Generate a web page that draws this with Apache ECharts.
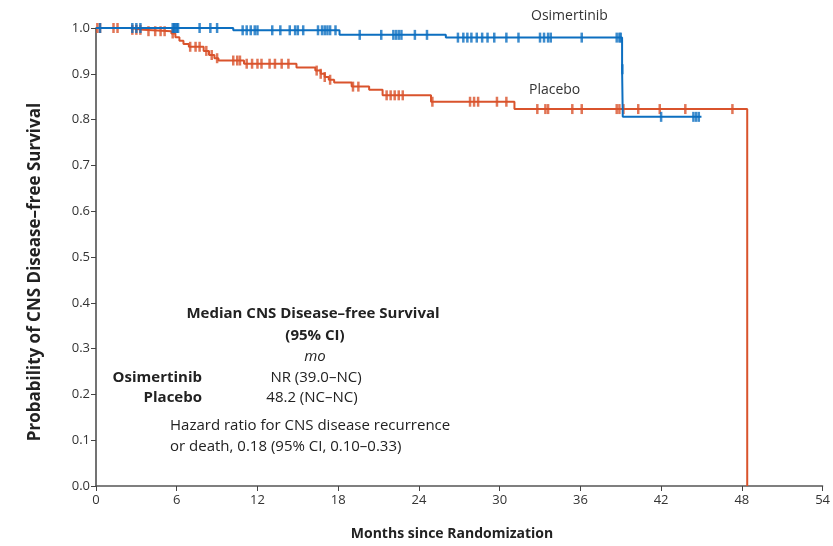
<!DOCTYPE html>
<html>
<head>
<meta charset="utf-8">
<script src="https://cdn.jsdelivr.net/npm/echarts@6/dist/echarts.min.js"></script>
<style>
  html, body { margin: 0; padding: 0; background: #fff; }
  #chart { width: 833px; height: 546px; }
</style>
</head>
<body>
<div id="chart"></div>
<script>
// Kaplan-Meier steps: time (months) and survival after the event
const osiTimes = [0, 10.2, 18.1, 26.0, 39.1, 39.15, 45.0]
const osiSurv = [1, 0.995, 0.985, 0.979, 0.91, 0.806, 0.806]
const plaTimes = [0, 2.5, 3.5, 5.6, 5.9, 6.2, 6.5, 6.9, 8.0, 8.4, 8.8, 9.1, 11.0, 14.9, 16.3, 16.7, 17.0, 17.3, 17.7, 19.0, 20.3, 21.3, 24.9, 31.1, 48.4]
const plaSurv = [1, 0.996, 0.993, 0.988, 0.98, 0.972, 0.965, 0.959, 0.95, 0.941, 0.934, 0.929, 0.922, 0.914, 0.907, 0.9, 0.893, 0.887, 0.881, 0.872, 0.865, 0.853, 0.839, 0.823, 0]

// censored patients (months)
const osiCensor = [0.3, 2.7, 3.0, 3.3, 5.7, 5.8, 5.9, 6.0, 6.1, 7.7, 8.5, 9.0, 10.9, 11.2, 11.5, 11.8, 12.0,
  13.1, 13.7, 14.4, 14.8, 15.0, 15.4, 16.5, 16.8, 17.0, 17.2, 17.4, 17.8, 19.6, 21.2, 22.1, 22.3, 22.5, 22.7,
  23.7, 24.6, 26.9, 27.3, 27.6, 27.9, 28.3, 28.7, 29.1, 29.6, 30.5, 31.4, 33.0, 33.3, 33.6, 33.8, 36.1,
  38.7, 38.9, 39.0, 39.12, 42.0, 44.4, 44.6, 44.8]
const plaCensor = [0.1, 0.3, 1.3, 1.6, 2.7, 3.0, 3.3, 3.9, 4.4, 4.8, 5.1, 5.7, 7.0, 7.4, 7.7, 8.2, 8.6, 9.0,
  10.2, 10.5, 10.7, 11.2, 11.6, 12.0, 12.3, 12.9, 13.3, 13.8, 14.3, 16.4, 16.7, 17.0, 17.4, 19.1, 19.5,
  21.6, 21.9, 22.2, 22.5, 22.8, 25.0, 27.8, 28.1, 28.4, 29.8, 30.5, 32.8, 33.4, 33.6, 35.4, 36.1,
  38.7, 38.9, 39.2, 40.3, 41.9, 43.8, 47.3]

const yTicks = [0, 0.1, 0.2, 0.3, 0.4, 0.5, 0.6, 0.7, 0.8, 0.9, 1.0]

const blue = '#0d6fc0'
const red = '#d9532c'
const font = 'Open Sans'

// survival level of a curve at time t (for placing the censor ticks on the line)
const survAt = (times, surv, t) => {
  let s = surv[0]
  for (let i = 0; i < times.length; i++) {
    if (times[i] <= t) s = surv[i]
  }
  return s
}

const curve = (times, surv) => times.map((t, i) => [t, surv[i]])
const marks = (cens, times, surv) => cens.map(t => [t, survAt(times, surv, t)])

const txt = (x, y, text, weight, align) => ({
  type: 'text',
  x: x,
  y: y,
  style: { text: text, font: weight + ' 15px "Open Sans"', fill: '#222', align: align, verticalAlign: 'middle' }
})

const myChart = echarts.init(document.getElementById('chart'))
let option = {
  animation: false,
  grid: { left: 96, right: 10, top: 28, bottom: 60 },
  xAxis: {
    type: 'value',
    min: 0,
    max: 54,
    interval: 6,
    axisLine: { lineStyle: { color: '#555', width: 1.5 } },
    axisTick: { length: 5, lineStyle: { color: '#444' } },
    axisLabel: { fontFamily: font, fontSize: 13, color: '#333', margin: 8 },
    splitLine: { show: false }
  },
  yAxis: {
    type: 'value',
    min: 0,
    max: 1,
    interval: 0.1,
    axisLine: { show: true, lineStyle: { color: '#444', width: 1.5 } },
    axisTick: { show: true, length: 5, lineStyle: { color: '#444' } },
    axisLabel: {
      fontFamily: font, fontSize: 13, color: '#333', margin: 6,
      formatter: v => yTicks.includes(Math.round(v * 10) / 10) ? v.toFixed(1) : ''
    },
    splitLine: { show: false }
  },
  series: [
    {
      name: 'Placebo',
      type: 'line',
      step: 'end',
      showSymbol: false,
      data: curve(plaTimes, plaSurv),
      lineStyle: { color: red, width: 2 },
      z: 2
    },
    {
      type: 'scatter',
      symbol: 'rect',
      symbolSize: [2.5, 10],
      data: marks(plaCensor, plaTimes, plaSurv),
      itemStyle: { color: red },
      z: 2
    },
    {
      name: 'Osimertinib',
      type: 'line',
      step: 'end',
      showSymbol: false,
      data: curve(osiTimes, osiSurv),
      lineStyle: { color: blue, width: 2 },
      z: 3
    },
    {
      type: 'scatter',
      symbol: 'rect',
      symbolSize: [2.5, 10],
      data: marks(osiCensor, osiTimes, osiSurv),
      itemStyle: { color: blue },
      z: 3
    }
  ],
  graphic: [
    // axis titles
    {
      type: 'text', x: 35, y: 272, rotation: Math.PI / 2,
      style: { text: 'Probability of CNS Disease–free Survival', font: 'bold 17px "Open Sans"', fill: '#222', align: 'center', verticalAlign: 'middle' }
    },
    {
      type: 'text', x: 452, y: 534,
      style: { text: 'Months since Randomization', font: 'bold 14px "Open Sans"', fill: '#222', align: 'center', verticalAlign: 'middle' }
    },
    { type: 'text', left: 531, top: 9, style: { text: 'Osimertinib', font: '14px "Open Sans"', fill: '#333' } },
    { type: 'text', left: 529, top: 83, style: { text: 'Placebo', font: '14px "Open Sans"', fill: '#333' } },
    txt(313, 314, 'Median CNS Disease–free Survival', 'bold', 'center'),
    txt(315, 336, '(95% CI)', 'bold', 'center'),
    txt(315, 357, 'mo', 'italic', 'center'),
    txt(202, 378, 'Osimertinib', 'bold', 'right'),
    txt(202, 398, 'Placebo', 'bold', 'right'),
    txt(316, 378, 'NR (39.0–NC)', 'normal', 'center'),
    txt(312, 398, '48.2 (NC–NC)', 'normal', 'center'),
    txt(170, 426, 'Hazard ratio for CNS disease recurrence', 'normal', 'left'),
    txt(170, 447, 'or death, 0.18 (95% CI, 0.10–0.33)', 'normal', 'left')
  ]
}
myChart.setOption(option)
</script>
</body>
</html>
